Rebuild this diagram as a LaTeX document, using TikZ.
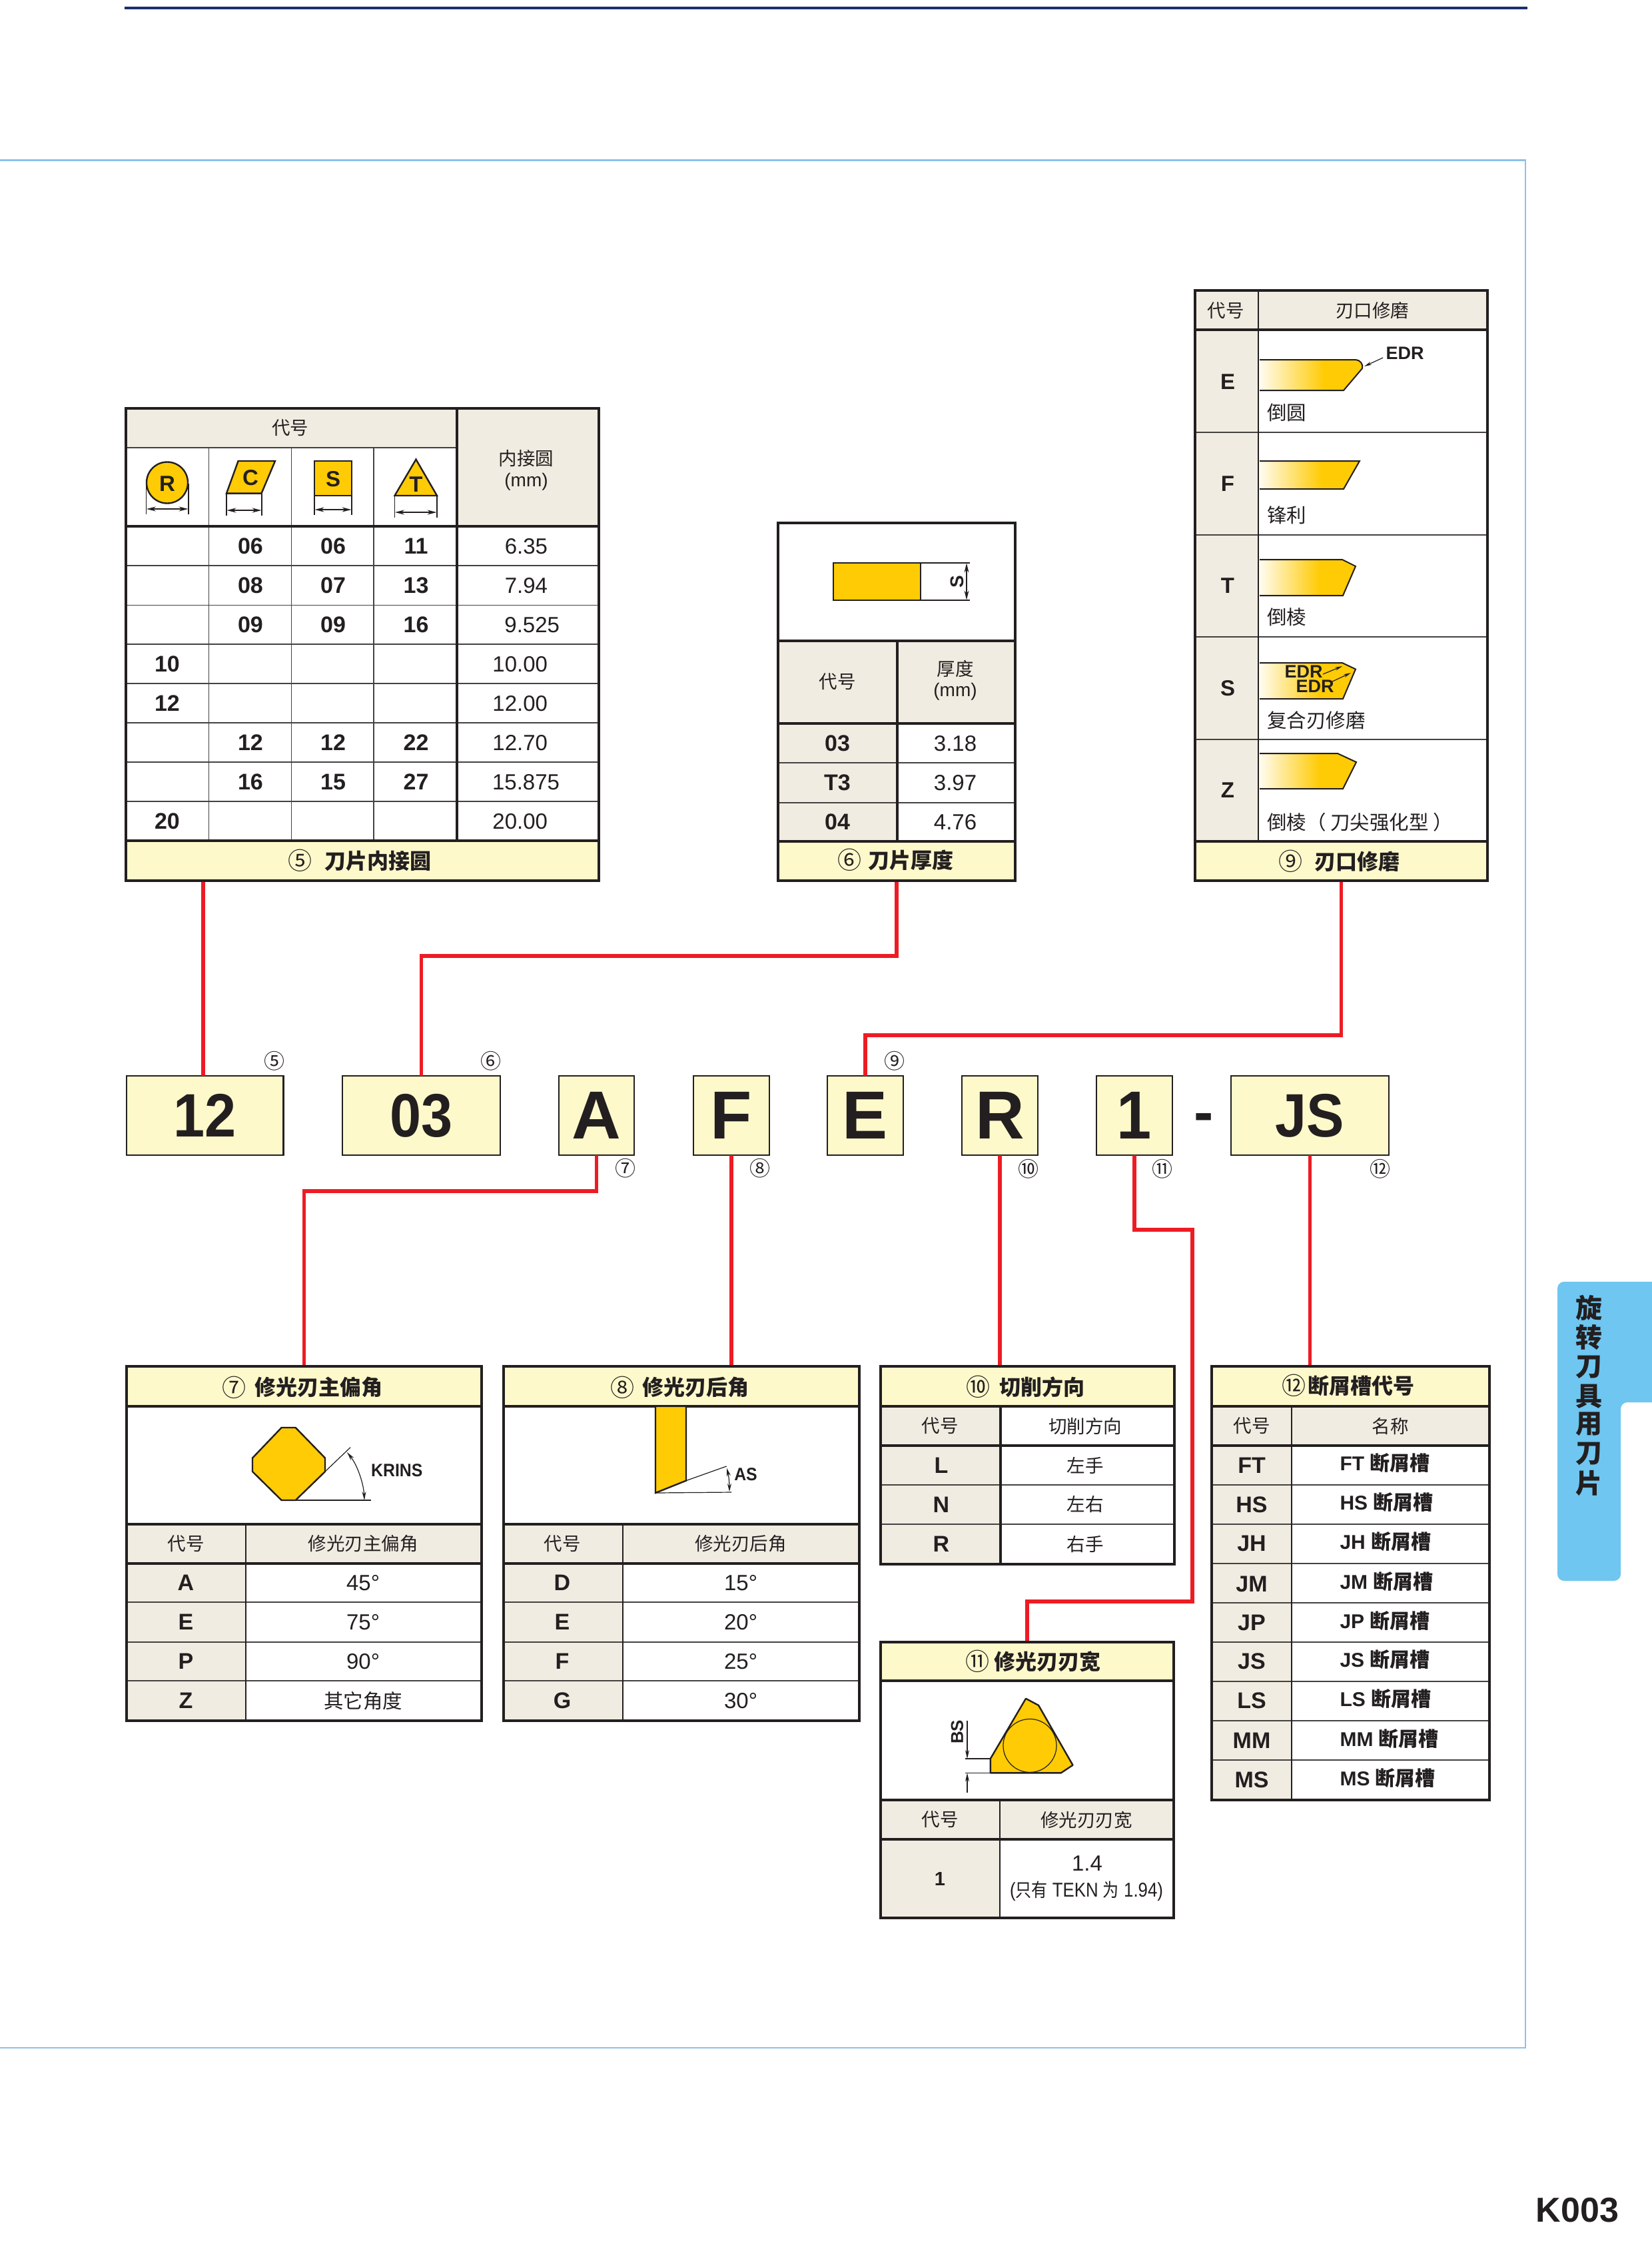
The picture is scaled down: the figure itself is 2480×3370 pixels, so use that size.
\documentclass[tikz,border=0pt]{standalone}
\usepackage{fontspec}
\setmainfont{Liberation Sans}
\newfontfamily\cjk{Noto Sans CJK SC}
\usetikzlibrary{arrows.meta}
\newcommand\sz[1]{\fontsize{#1}{#1}\selectfont}
\newcommand\narrow[1]{\scalebox{.92}[1]{#1}}
\definecolor{ink}{HTML}{231F20}
\definecolor{tan}{HTML}{F0ECE1}
\definecolor{lab}{HTML}{FEF9CB}
\definecolor{ins}{HTML}{FFCB05}
\definecolor{wire}{HTML}{ED1C24}
\definecolor{tab}{HTML}{6FC6F0}
\definecolor{frame}{HTML}{8EC1EA}
\definecolor{navy}{HTML}{1B2F6E}
\colorlet{palest}{ins!6}
\pgfdeclarehorizontalshading{bladeshade}{100bp}{color(0bp)=(palest); color(25bp)=(palest); color(56bp)=(ins); color(100bp)=(ins)}
\newcounter{tn}
\newcommand\tx[4][]{\stepcounter{tn}\node[txt,#1] (t\arabic{tn}) at (#2,#3) {#4};}
\tikzset{
 x=1pt,y=-1pt,
 txt/.style={inner sep=0,outer sep=0,text=ink,align=center},
 thk/.style={draw=ink,line width=3.2},
 thn/.style={draw=ink!85,line width=1.2},
 hd/.style={font=\cjk\sz{27.5}},
 lb/.style={font=\cjk\sz{29.5}},
 tt/.style={font=\cjk\bfseries\sz{32}},
 circ/.style={font=\cjk\sz{36}},
 circs/.style={font=\cjk\sz{31}},
 cd/.style={font=\bfseries\sz{34}},
 vl/.style={font=\sz{33}},
 mm/.style={font=\sz{28}},
 nm/.style={font=\bfseries\sz{30}},
 let/.style={font=\bfseries\sz{33}},
 edr/.style={font=\bfseries\sz{27}},
 codebox/.style={draw=ink,line width=2.2,fill=lab,inner sep=0,outer sep=0,text=ink,font=\bfseries\sz{102}},
 codewide/.style={codebox,font=\bfseries\sz{92}},
 labbar/.style={fill=lab,inner sep=0,outer sep=0,minimum height=60},
 conn/.style={draw=wire,line width=5.5,line join=miter},
 dim/.style={draw=ink,line width=1.2},
 dimb/.style={dim,{Stealth[length=14pt,width=7pt]}-{Stealth[length=14pt,width=7pt]}},
 dime/.style={dim,-{Stealth[length=13pt,width=6pt]}},
 blade/.style={draw=ink,line width=2},
 insert/.style={fill=ins,draw=ink,line width=2.4,line join=round},
}
\begin{document}
\begin{tikzpicture}
\useasboundingbox (0,0) rectangle (2480,3370);
% page furniture
\fill[white] (0,0) rectangle (2480,3370);
\draw[navy,line width=4] (187,12.3) -- (2293,12.3);
\draw[frame,line width=2.6] (0,240.7) -- (2290,240.7) -- (2290,3074) -- (0,3074);
\fill[tab,rounded corners=10] (2500,1924) -- (2338,1924) -- (2338,2373) -- (2433,2373) -- (2433,2105) -- (2500,2105) -- cycle;
\begin{scope}
\tikzset{vt/.style={font=\cjk\bfseries\sz{40}}}
\tx[vt]{2385}{1963}{旋}\tx[vt]{2385}{2007}{转}\tx[vt]{2385}{2052}{刀}\tx[vt]{2385}{2096}{具}\tx[vt]{2385}{2138}{用}\tx[vt]{2385}{2182}{刀}\tx[vt]{2385}{2226}{片}
\end{scope}
\tx[font=\bfseries\sz{52}]{2368}{3318}{K003}

% code boxes
\node[codewide,minimum width=235.5,minimum height=118.5] (b12) at (307.75,1674.5) {\narrow{12}};
\node[codewide,minimum width=237,minimum height=118.5] (b03) at (632.5,1674.5) {\narrow{03}};
\node[codebox,minimum width=113,minimum height=118.5] (bA) at (895.5,1674.5) {A};
\node[codebox,minimum width=114,minimum height=118.5] (bF) at (1098,1674.5) {F};
\node[codebox,minimum width=114,minimum height=118.5] (bE) at (1299,1674.5) {E};
\node[codebox,minimum width=114,minimum height=118.5] (bR) at (1501,1674.5) {R};
\node[codebox,minimum width=114,minimum height=118.5] (bI) at (1703,1674.5) {\narrow{1}};
\node[codewide,minimum width=237,minimum height=118.5] (bJS) at (1966.5,1674.5) {\narrow{JS}};
\tx[font=\bfseries\sz{88}]{1807}{1685}{-}
\tx[circs]{412}{1593}{⑤}\tx[circs]{737}{1593}{⑥}\tx[circs]{1343}{1593}{⑨}
\tx[circs]{939}{1754}{⑦}\tx[circs]{1141}{1754}{⑧}\tx[circs]{1544}{1755}{⑩}\tx[circs]{1744.5}{1755}{⑪}\tx[circs]{2072}{1755}{⑫}

% label bars
\node[labbar,minimum width=710] (lab5) at (544,1292) {};
\node[labbar,minimum width=356] (lab6) at (1346,1292.5) {};
\node[labbar,minimum width=439,minimum height=59] (lab9) at (2013.5,1292.5) {};
\node[labbar,minimum width=533] (lab7) at (456.5,2081) {};
\node[labbar,minimum width=534] (lab8) at (1023,2081) {};
\node[labbar,minimum width=441] (lab10) at (1542.5,2081) {};
\node[labbar,minimum width=440,minimum height=58] (lab11) at (1542,2494) {};
\node[labbar,minimum width=417] (lab12) at (2027.5,2081) {};

% connectors
\coordinate (xa) at (305,0);
\coordinate (h6) at (0,1435);
\coordinate (h9) at (0,1554);
\coordinate (h7) at (0,1788);
\coordinate (h11a) at (0,1846);
\coordinate (h11b) at (0,2404);
\coordinate (x11) at (1790,0);
\draw[conn] (lab5.south -| xa) -- (b12.north -| xa);
\draw[conn] (b03.north) -- (b03.north |- h6) -- (lab6.south |- h6) -- (lab6.south);
\draw[conn] (bE.north) -- (bE.north |- h9) -- (lab9.south |- h9) -- (lab9.south);
\draw[conn] (bA.south) -- (bA.south |- h7) -- (lab7.north |- h7) -- (lab7.north);
\draw[conn] (bF.south) -- (bF.south |- lab8.north);
\draw[conn] (bR.south) -- (bR.south |- lab10.north);
\draw[conn] (bI.south) -- (bI.south |- h11a) -- (x11 |- h11a) -- (x11 |- h11b) -- (lab11.north |- h11b) -- (lab11.north);
\draw[conn] (bJS.south) -- (bJS.south |- lab12.north);

% ---- table 5
\fill[tan] (189,613) rectangle (686,672);
\fill[tan] (686,613) rectangle (899,790);
\foreach \y in {849,908.5,967,1026,1085,1144,1203} \draw[thn] (189,\y) -- (899,\y);
\foreach \x in {313.5,437.5,561} \draw[thn] (\x,672) -- (\x,1262);
\draw[thn] (189,672) -- (686,672);
\draw[thk] (189,790) -- (899,790);
\draw[thk] (189,1262) -- (899,1262);
\draw[thk] (686,613) -- (686,1262);
\draw[thk] (189,613) rectangle (899,1322);
\tx[hd]{435.5}{642}{代号}
\tx[hd]{790}{688}{内接圆}
\tx[mm]{790}{723}{(mm)}
\tx[circ]{450}{1292}{⑤}
\tx[tt]{567}{1292}{刀片内接圆}
% icons
\draw[insert] (251,724.5) circle (31);
\tx[let]{251}{726}{R}
\draw[dim] (219.5,726) -- (219.5,772);
\draw[dim] (283,726) -- (283,772);
\draw[dimb] (220,764) -- (282.5,764);
\draw[insert,line join=miter] (357.6,692) -- (413,692) -- (392.5,740.6) -- (340,740.6) -- cycle;
\tx[let]{376}{717}{C}
\draw[dim] (340,740.6) -- (340,773.6);
\draw[dim] (393,740.6) -- (393,773.6);
\draw[dimb] (340.5,766) -- (392.5,766);
\draw[insert,line join=miter] (472,692) rectangle (528,744);
\tx[let]{500}{719}{S}
\draw[dim] (472,744) -- (472,773);
\draw[dim] (528,744) -- (528,773);
\draw[dimb] (472.5,765) -- (527.5,765);
\draw[insert,line join=miter] (624.5,689.6) -- (656,744) -- (592.5,744) -- cycle;
\tx[let]{624.5}{727}{T}
\draw[dim] (592.5,744) -- (592.5,777);
\draw[dim] (656,744) -- (656,777);
\draw[dimb] (593,769) -- (655.5,769);
% values
\tx[cd]{376}{820}{06}\tx[cd]{500}{820}{06}\tx[cd]{624.5}{820}{11}
\tx[cd]{376}{879}{08}\tx[cd]{500}{879}{07}\tx[cd]{624.5}{879}{13}
\tx[cd]{376}{938}{09}\tx[cd]{500}{938}{09}\tx[cd]{624.5}{938}{16}
\tx[cd]{251}{997}{10}\tx[cd]{251}{1056}{12}
\tx[cd]{376}{1115}{12}\tx[cd]{500}{1115}{12}\tx[cd]{624.5}{1115}{22}
\tx[cd]{376}{1174}{16}\tx[cd]{500}{1174}{15}\tx[cd]{624.5}{1174}{27}
\tx[cd]{251}{1233}{20}
\tx[vl,anchor=east]{822}{820}{6.35}
\tx[vl,anchor=east]{822}{879}{7.94}
\tx[vl,anchor=east]{840}{938}{9.525}
\tx[vl,anchor=east]{822}{997}{10.00}
\tx[vl,anchor=east]{822}{1056}{12.00}
\tx[vl,anchor=east]{822}{1115}{12.70}
\tx[vl,anchor=east]{840}{1174}{15.875}
\tx[vl,anchor=east]{822}{1233}{20.00}

% ---- table 6
\fill[tan] (1168,962) rectangle (1524,1086);
\fill[tan] (1168,1086) rectangle (1347,1263);
\foreach \y in {1145,1205} \draw[thn] (1168,\y) -- (1524,\y);
\draw[thk] (1168,962) -- (1524,962);
\draw[thk] (1168,1086) -- (1524,1086);
\draw[thk] (1168,1263) -- (1524,1263);
\draw[thk] (1347,962) -- (1347,1263);
\draw[thk] (1168,785) rectangle (1524,1322);
\draw[insert,line join=miter] (1251,845) rectangle (1382,901);
\draw[dim] (1382,845) -- (1456,845);
\draw[dim] (1382,901) -- (1456,901);
\draw[dimb] (1451,845.5) -- (1451,900.5);
\tx[font=\bfseries\sz{28},rotate=90]{1437}{873.6}{S}
\tx[hd]{1257}{1023}{代号}
\tx[hd]{1434}{1004}{厚度}
\tx[mm]{1434}{1038.6}{(mm)}
\tx[cd]{1257}{1116}{03}\tx[vl]{1434}{1116}{3.18}
\tx[cd]{1257}{1175}{T3}\tx[vl]{1434}{1175}{3.97}
\tx[cd]{1257}{1234}{04}\tx[vl]{1434}{1234}{4.76}
\tx[circ]{1275}{1291}{⑥}
\tx[tt]{1367}{1291}{刀片厚度}

% ---- table 9
\fill[tan] (1794,436) rectangle (2233,495);
\fill[tan] (1794,495) rectangle (1889,1263);
\foreach \y in {649,803,956,1110} \draw[thn] (1794,\y) -- (2233,\y);
\draw[thk] (1794,495) -- (2233,495);
\draw[thk] (1794,1263) -- (2233,1263);
\draw[draw=ink,line width=1.8] (1889,436) -- (1889,1263);
\draw[thk] (1794,436) rectangle (2233,1322);
\tx[hd]{1840}{466}{代号}
\tx[hd]{2060}{466}{刃口修磨}
\tx[let]{1843}{573}{E}\tx[let]{1843}{726}{F}\tx[let]{1843}{879}{T}\tx[let]{1843}{1033}{S}\tx[let]{1843}{1186}{Z}
% blades
\shade[shading=bladeshade] (1891,540) -- (2035,540) to[out=0,in=70] (2045,553) -- (2017,586) -- (1891,586) -- cycle;
\draw[blade] (1891,540) -- (2035,540) to[out=0,in=70] (2045,553) -- (2017,586) -- (1891,586);
\shade[shading=bladeshade] (1891,692) -- (2041,692) -- (2017,734) -- (1891,734) -- cycle;
\draw[blade] (1891,692) -- (2041,692) -- (2017,734) -- (1891,734);
\shade[shading=bladeshade] (1891,840) -- (2015,840) -- (2035,850) -- (2016,894) -- (1891,894) -- cycle;
\draw[blade] (1891,840) -- (2015,840) -- (2035,850) -- (2016,894) -- (1891,894);
\shade[shading=bladeshade] (1891,995) -- (2015,995) -- (2035,1004.5) -- (2016,1049) -- (1891,1049) -- cycle;
\draw[blade] (1891,995) -- (2015,995) -- (2035,1004.5) -- (2016,1049) -- (1891,1049);
\shade[shading=bladeshade] (1891,1131) -- (2008,1131) -- (2036,1144) -- (2016,1184) -- (1891,1184) -- cycle;
\draw[blade] (1891,1131) -- (2008,1131) -- (2036,1144) -- (2016,1184) -- (1891,1184);
\tx[edr]{2109}{530}{EDR}
\draw[dim,-{Stealth[length=11pt,width=5pt]}] (2076,537) -- (2048,550);
\tx[edr]{1957}{1008.6}{EDR}
\tx[edr]{1974}{1030}{EDR}
\draw[dim,-{Stealth[length=11pt,width=5pt]}] (1986,1012) -- (2015,1000);
\draw[dim,-{Stealth[length=11pt,width=5pt]}] (2000,1023) -- (2028,1010);
\tx[lb,anchor=west]{1902}{619.5}{倒圆}
\tx[lb,anchor=west]{1902}{773}{锋利}
\tx[lb,anchor=west]{1902}{926}{倒棱}
\tx[lb,anchor=west]{1902}{1081}{复合刃修磨}
\tx[lb,anchor=west]{1902}{1234}{倒棱（ 刀尖强化型 ）}
\tx[circ]{1937}{1293}{⑨}
\tx[tt]{2037}{1293}{刃口修磨}

% ---- table 7
\fill[tan] (190,2288) rectangle (723,2347);
\fill[tan] (190,2347) rectangle (368.6,2583);
\foreach \y in {2405,2465,2523} \draw[thn] (190,\y) -- (723,\y);
\draw[thk] (190,2111) -- (723,2111);
\draw[thk] (190,2288) -- (723,2288);
\draw[thk] (190,2347) -- (723,2347);
\draw[draw=ink,line width=1.8] (368.6,2288) -- (368.6,2583);
\draw[thk] (190,2051) rectangle (723,2583);
\tx[circ]{351}{2082.5}{⑦}
\tx[tt]{478}{2082.5}{修光刃主偏角}
\draw[insert] (422.6,2143) -- (443.7,2143) -- (488,2188.6) -- (488,2209) -- (443.7,2252) -- (422.6,2252) -- (379,2209) -- (379,2188.6) -- cycle;
\draw[dim] (443.7,2252) -- (557,2252);
\draw[dim] (488,2209) -- (526,2172.7);
\draw[dim,{Stealth[length=13pt,width=6pt]}-{Stealth[length=13pt,width=6pt]}] (521,2180) .. controls (537,2200) and (546,2228) .. (547,2252);
\tx[edr]{595.8}{2207}{\narrow{KRINS}}
\tx[hd]{279}{2317}{代号}
\tx[hd]{545}{2317}{修光刃主偏角}
\tx[cd]{279}{2376}{A}\tx[vl]{545}{2376}{45°}
\tx[cd]{279}{2435}{E}\tx[vl]{545}{2435}{75°}
\tx[cd]{279}{2494}{P}\tx[vl]{545}{2494}{90°}
\tx[cd]{279}{2553}{Z}\tx[lb]{545}{2553}{其它角度}

% ---- table 8
\fill[tan] (756,2288) rectangle (1290,2347);
\fill[tan] (756,2347) rectangle (935,2583);
\foreach \y in {2405,2465,2523} \draw[thn] (756,\y) -- (1290,\y);
\draw[thk] (756,2111) -- (1290,2111);
\draw[thk] (756,2288) -- (1290,2288);
\draw[thk] (756,2347) -- (1290,2347);
\draw[draw=ink,line width=1.8] (935,2288) -- (935,2583);
\draw[thk] (756,2051) rectangle (1290,2583);
\tx[circ]{934}{2082.5}{⑧}
\tx[tt]{1044.5}{2082.5}{修光刃后角}
\draw[insert,line join=miter] (984,2111) -- (1030,2111) -- (1030,2222.6) -- (984,2241) -- cycle;
\draw[dim] (1030,2222.6) -- (1090.7,2201);
\draw[dim] (984,2241) -- (1098,2240);
\draw[dim,{Stealth[length=12pt,width=6pt]}-{Stealth[length=12pt,width=6pt]}] (1091,2204) .. controls (1094,2215) and (1095,2228) .. (1095,2239);
\tx[edr]{1119.5}{2213}{\narrow{AS}}
\tx[hd]{844}{2317}{代号}
\tx[hd]{1112}{2317}{修光刃后角}
\tx[cd]{844}{2376}{D}\tx[vl]{1112}{2376}{15°}
\tx[cd]{844}{2435}{E}\tx[vl]{1112}{2435}{20°}
\tx[cd]{844}{2494}{F}\tx[vl]{1112}{2494}{25°}
\tx[cd]{844}{2553}{G}\tx[vl]{1112}{2553}{30°}

% ---- table 10
\fill[tan] (1322,2111) rectangle (1502,2348);
\foreach \y in {2229,2288} \draw[thn] (1322,\y) -- (1763,\y);
\draw[thk] (1322,2111) -- (1763,2111);
\draw[thk] (1322,2170) -- (1763,2170);
\draw[thk] (1502,2111) -- (1502,2348);
\draw[thk] (1322,2051) rectangle (1763,2348);
\tx[circ]{1468}{2082}{⑩}
\tx[tt]{1564}{2082}{切削方向}
\tx[hd]{1411}{2140.6}{代号}
\tx[hd]{1629}{2140.6}{切削方向}
\tx[cd]{1413}{2199.6}{L}\tx[hd]{1629}{2199.6}{左手}
\tx[cd]{1413}{2258.5}{N}\tx[hd]{1629}{2258.5}{左右}
\tx[cd]{1413}{2318}{R}\tx[hd]{1629}{2318}{右手}

% ---- table 11
\fill[tan] (1322,2702) rectangle (1762,2761);
\fill[tan] (1322,2761) rectangle (1501,2879);
\draw[thk] (1322,2523) -- (1762,2523);
\draw[thk] (1322,2702) -- (1762,2702);
\draw[thk] (1322,2761) -- (1762,2761);
\draw[draw=ink,line width=1.8] (1501,2702) -- (1501,2879);
\draw[thk] (1322,2465) rectangle (1762,2879);
\tx[circ]{1467}{2494}{⑪}
\tx[tt]{1572.5}{2494}{修光刃刃宽}
\draw[insert,line join=round] (1540,2549.7) -- (1559,2559.8) -- (1610.5,2649.6) -- (1592.7,2661.4) -- (1486.8,2661.4) -- (1486.8,2640) -- cycle;
\draw[dim] (1546,2620.4) circle (40);
\draw[dim] (1449.4,2640) -- (1486.8,2640);
\draw[dim] (1449.4,2661.4) -- (1486.8,2661.4);
\draw[dime] (1452,2583.4) -- (1452,2640);
\draw[dime] (1452,2690.6) -- (1452,2661.4);
\tx[font=\bfseries\sz{26},rotate=90]{1437}{2599.7}{BS}
\tx[hd]{1411}{2731.6}{代号}
\tx[hd]{1631}{2731.6}{修光刃刃宽}
\tx[font=\bfseries\sz{29}]{1411}{2820}{1}
\tx[vl]{1632}{2797}{1.4}
\tx[font=\sz{30}]{1631}{2839}{\scalebox{.86}[1]{({\cjk\sz{28}只有} TEKN {\cjk\sz{28}为} 1.94)}}

% ---- table 12
\fill[tan] (1819,2111) rectangle (2236,2170);
\fill[tan] (1819,2170) rectangle (1939,2702);
\foreach \y in {2229,2288,2347,2406,2465,2524,2583,2642} \draw[thn] (1819,\y) -- (2236,\y);
\draw[thk] (1819,2111) -- (2236,2111);
\draw[thk] (1819,2170) -- (2236,2170);
\draw[draw=ink,line width=1.8] (1939,2111) -- (1939,2702);
\draw[thk] (1819,2051) rectangle (2236,2702);
\tx[circ]{1942}{2080}{⑫}
\tx[tt]{2043}{2080}{断屑槽代号}
\tx[hd]{1879}{2140.6}{代号}
\tx[hd]{2087}{2140.6}{名称}
\foreach \c/\y in {FT/2199.6,HS/2258.5,JH/2317.4,JM/2377.5,JP/2436,JS/2494,LS/2553,MM/2613,MS/2672}{
  \tx[cd]{1879}{\y}{\c}
  \tx[nm,anchor=west]{2011.5}{\y-3}{\c\ {\cjk\bfseries 断屑槽}}
}
\end{tikzpicture}
\end{document}
